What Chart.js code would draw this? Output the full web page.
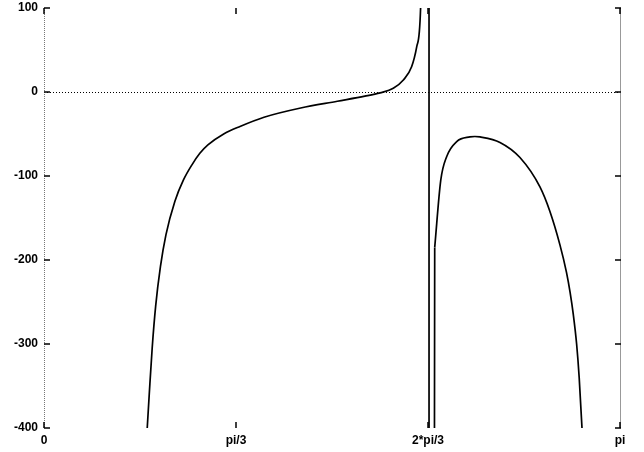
<!DOCTYPE html>
<html>
<head>
<meta charset="utf-8">
<script src="https://cdn.jsdelivr.net/npm/chart.js@4.4.1/dist/chart.umd.min.js"></script>
<style>
  html, body { margin: 0; padding: 0; background: #fff; }
  #wrap { width: 644px; height: 452px; }
</style>
</head>
<body>
<div id="wrap"><canvas id="plot" width="644" height="452"></canvas></div>
<script>
// values
const branch1X = [0.550, 0.563, 0.574, 0.590, 0.609, 0.635, 0.665, 0.714, 0.760, 0.806, 0.850, 0.894, 0.980, 1.069, 1.200, 1.400, 1.600, 1.750, 1.833, 1.905, 1.960, 2.005, 2.033, 2.054, 2.075];
const branch1Y = [-450, -400, -360, -305, -255, -208, -170, -130, -105, -87, -73, -63, -50, -41, -30, -19, -11, -5, -1, 4.4, 14.3, 30, 54, 100, 400];

// the jump across the pole
const jumpX = [2.075, 2.099, 2.101, 2.131];
const jumpY = [400, 5000, -5000, -185];

const branch2X = [2.131, 2.164, 2.196, 2.251, 2.323, 2.350, 2.378, 2.487, 2.596, 2.705, 2.759, 2.814, 2.850, 2.869, 2.887, 2.905, 2.919, 2.934, 2.950];
const branch2Y = [-185, -105, -77, -59, -53.5, -53, -53.5, -60, -78, -113, -142, -182, -215, -238, -265, -300, -340, -399, -480];

const xTickValues = [0, Math.PI / 3, 2 * Math.PI / 3, Math.PI];
const xTickLabels = ["0", "pi/3", "2*pi/3", "pi"];
const yTickValues = [100, 0, -100, -200, -300, -400];

const toPoints = (xs, ys) => xs.map((x, i) => ({ x: x, y: ys[i] }));

// gnuplot style frame: ticks inside, dotted zero line
const framePlugin = {
  id: "frame",
  beforeDatasetsDraw(chart) {
    const { ctx, chartArea: a, scales } = chart;
    ctx.save();
    // zero axis
    const y0 = scales.y.getPixelForValue(0);
    ctx.strokeStyle = "#000";
    ctx.lineWidth = 1;
    ctx.setLineDash([1, 2]);
    ctx.beginPath();
    ctx.moveTo(a.left, y0 + 0.5);
    ctx.lineTo(a.right, y0 + 0.5);
    ctx.stroke();
    // left border, dotted gray
    ctx.strokeStyle = "#777";
    ctx.setLineDash([1, 1]);
    ctx.beginPath();
    ctx.moveTo(a.left + 0.5, a.top);
    ctx.lineTo(a.left + 0.5, a.bottom);
    ctx.stroke();
    // right border, solid gray
    ctx.setLineDash([]);
    ctx.strokeStyle = "#999";
    ctx.beginPath();
    ctx.moveTo(a.right + 0.5, a.top);
    ctx.lineTo(a.right + 0.5, a.bottom);
    ctx.stroke();
    // tick marks
    ctx.strokeStyle = "#000";
    ctx.lineWidth = 1.5;
    ctx.beginPath();
    yTickValues.forEach((v) => {
      const y = scales.y.getPixelForValue(v);
      ctx.moveTo(a.left, y);
      ctx.lineTo(a.left + 6, y);
      ctx.moveTo(a.right + 1, y);
      ctx.lineTo(a.right - 5, y);
    });
    xTickValues.forEach((v) => {
      const x = scales.x.getPixelForValue(v);
      ctx.moveTo(x, a.bottom);
      ctx.lineTo(x, a.bottom - 6);
      ctx.moveTo(x, a.top);
      ctx.lineTo(x, a.top + 6);
    });
    ctx.stroke();
    ctx.restore();
  },
};

const lineStyle = {
  borderColor: "#000",
  borderWidth: 1.7,
  pointRadius: 0,
  showLine: true,
  fill: false,
};

new Chart(document.getElementById("plot").getContext("2d"), {
  type: "scatter",
  data: {
    datasets: [
      { ...lineStyle, data: toPoints(branch1X, branch1Y), cubicInterpolationMode: "monotone" },
      { ...lineStyle, data: toPoints(jumpX, jumpY), tension: 0 },
      { ...lineStyle, data: toPoints(branch2X, branch2Y), cubicInterpolationMode: "monotone" },
    ],
  },
  options: {
    responsive: false,
    animation: false,
    layout: { padding: { top: 8, right: 24, left: 0, bottom: 0 } },
    plugins: {
      legend: { display: false },
      tooltip: { enabled: false },
    },
    scales: {
      x: {
        type: "linear",
        min: 0,
        max: Math.PI,
        grid: { display: false },
        border: { display: false },
        afterBuildTicks: (scale) => {
          scale.ticks = xTickValues.map((v) => ({ value: v }));
        },
        afterFit: (scale) => {
          scale.height = 24;
          scale.paddingLeft = 0;
          scale.paddingRight = 0;
        },
        ticks: {
          autoSkip: false,
          maxRotation: 0,
          padding: -3,
          color: "#000",
          font: { family: "Liberation Sans", size: 12, weight: "bold" },
          callback: (value, index) => xTickLabels[index],
        },
      },
      y: {
        min: -400,
        max: 100,
        grid: { display: false },
        border: { display: false },
        afterFit: (scale) => {
          scale.width = 44;
          scale.paddingTop = 0;
          scale.paddingBottom = 0;
        },
        ticks: {
          stepSize: 100,
          padding: -2,
          color: "#000",
          font: { family: "Liberation Sans", size: 12, weight: "bold" },
        },
      },
    },
  },
  plugins: [framePlugin],
});
</script>
</body>
</html>
